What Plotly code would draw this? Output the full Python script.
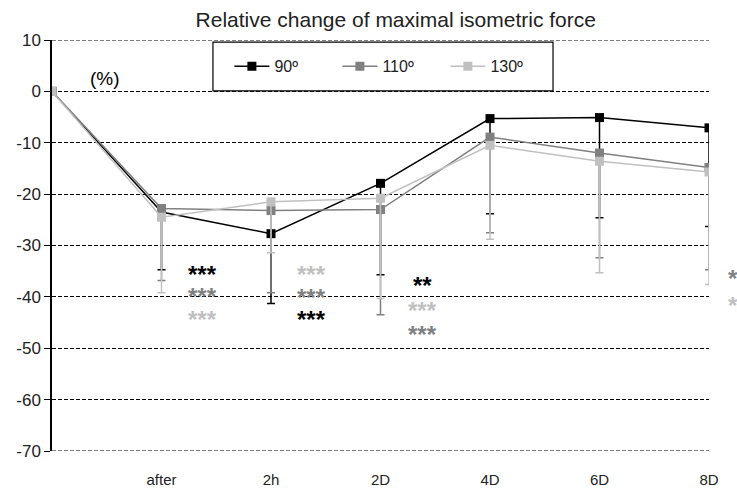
import plotly.graph_objects as go

# ---- data ----
time_labels = ["", "after", "2h", "2D", "4D", "6D", "8D"]
x_idx = [0, 1, 2, 3, 4, 5, 6]
y_ticks = [10, 0, -10, -20, -30, -40, -50, -60, -70]
y_tick_labels = ["10", "0", "-10", "-20", "-30", "-40", "-50", "-60", "-70"]

series_names = ["90º", "110º", "130º"]
vals_90 = [0, -23.5, -27.7, -17.9, -5.3, -5.1, -7.1]
vals_110 = [0, -22.8, -23.2, -23.0, -8.9, -12.0, -14.8]
vals_130 = [0, -24.5, -21.5, -20.8, -10.5, -13.6, -15.7]

sd_90 = [0, 11.2, 13.6, 17.8, 18.5, 19.5, 19.2]
sd_110 = [0, 14.0, 16.0, 20.5, 18.6, 20.4, 19.9]
sd_130 = [0, 14.7, 9.9, 19.5, 18.3, 21.7, 21.9]

# significance marks inside the plot: (x position, y position, text, series index)
sig_x = [1.37, 1.37, 1.37, 2.37, 2.37, 2.37, 3.38, 3.38, 3.38]
sig_y = [-35.2, -39.6, -44.1, -35.2, -39.8, -44.1, -37.3, -42.2, -47.0]
sig_text = ["***", "***", "***", "***", "***", "***", "**", "***", "***"]
sig_series = [0, 1, 2, 2, 1, 0, 0, 2, 1]
# marks beyond the right edge (cut by the figure edge), x in paper units
edge_sig_x = [1.026, 1.026]
edge_sig_y = [-36.1, -41.2]
edge_sig_text = ["***", "***"]
edge_sig_series = [1, 2]

colors = ["#000000", "#808080", "#c0c0c0"]

fig = go.Figure()
for name, v, sd, c in zip(series_names, [vals_90, vals_110, vals_130],
                          [sd_90, sd_110, sd_130], colors):
    fig.add_trace(go.Scatter(
        x=x_idx, y=v, name=name, mode="lines+markers",
        line=dict(color=c, width=1.5),
        marker=dict(symbol="square", size=9, color=c),
        error_y=dict(type="data", symmetric=False, array=[0] * len(sd),
                     arrayminus=sd, color=c, thickness=1.5, width=4),
    ))

star_font = dict(family="Liberation Sans, Arial", size=24, weight="bold")
for xs, ys, t, si in zip(sig_x, sig_y, sig_text, sig_series):
    fig.add_annotation(x=xs, y=ys, text=t, showarrow=False, xanchor="center",
                       yanchor="middle", yshift=-2,
                       font=dict(star_font, color=colors[si]))
for xs, ys, t, si in zip(edge_sig_x, edge_sig_y, edge_sig_text, edge_sig_series):
    fig.add_annotation(x=xs, xref="paper", y=ys, yref="y", text=t, showarrow=False,
                       xanchor="left", yanchor="middle", yshift=-2,
                       font=dict(star_font, color=colors[si]))

fig.add_annotation(x=0.08, xref="paper", y=0.906, yref="paper", text="(%)",
                   showarrow=False, xanchor="center", yanchor="middle",
                   font=dict(family="Liberation Sans, Arial", size=19, color="#000"))

# dashed lines at the range edges (gridlines there are not drawn by plotly)
for yv in (y_ticks[0], y_ticks[-1]):
    fig.add_shape(type="line", xref="paper", yref="y", x0=0, x1=1, y0=yv, y1=yv,
                  line=dict(color="black", width=1, dash="4px,2px"), layer="below")

# legend box
fig.add_shape(type="rect", xref="paper", yref="paper",
              x0=0.245, x1=0.7626, y0=0.876, y1=0.995,
              line=dict(color="black", width=1.2), fillcolor="white", layer="above")

fig.update_layout(
    width=737, height=491,
    margin=dict(l=52, r=28, t=40, b=40),
    paper_bgcolor="white", plot_bgcolor="white",
    title=dict(text="Relative change of maximal isometric force", x=0.537, xanchor="center",
               y=0.96, yanchor="middle",
               font=dict(family="Liberation Sans, Arial", size=21, color="#222")),
    font=dict(family="Liberation Sans, Arial", color="#222"),
    showlegend=True,
    legend=dict(orientation="h", x=0.27, xanchor="left", y=0.936, yanchor="middle",
                bgcolor="rgba(0,0,0,0)", borderwidth=0,
                font=dict(size=16, color="#222"), entrywidth=58,
                itemwidth=35),
    xaxis=dict(range=[0, 6], tickvals=x_idx, ticktext=time_labels,
               showgrid=False, zeroline=False, showline=False, ticks="",
               ticklabelstandoff=18, automargin=False,
               tickfont=dict(family="Liberation Sans, Arial", size=15, color="#222")),
    yaxis=dict(range=[-70, 10], tickvals=y_ticks, ticktext=y_tick_labels,
               showgrid=True, gridcolor="black",
               griddash="4px,2px", gridwidth=1, zeroline=False,
               showline=True, linecolor="black", linewidth=1.5,
               ticks="outside", ticklen=6, tickcolor="black", automargin=False,
               tickfont=dict(family="Liberation Sans, Arial", size=17, color="#222")),
)

fig.write_html("out.html", config={"displayModeBar": False},
               post_script="document.body.style.margin='0';document.body.style.overflow='hidden';")
